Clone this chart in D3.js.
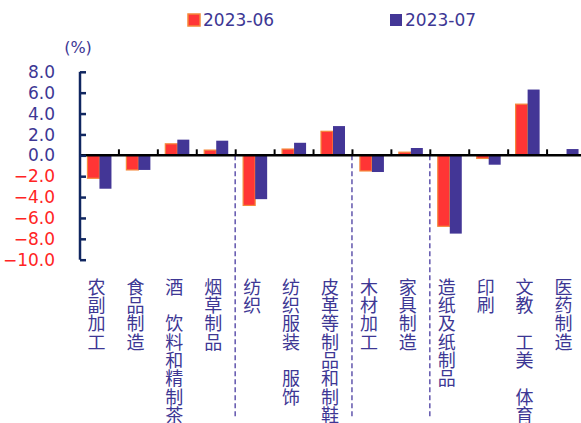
<!DOCTYPE html>
<html>
<head>
<meta charset="utf-8">
<script src="https://cdn.jsdelivr.net/npm/d3@7"></script>
<style>
  html, body { margin: 0; padding: 0; background: #fff; }
  svg { display: block; font-family: "Noto Sans CJK SC", "Noto Sans", "DejaVu Sans", sans-serif; }
  .num { font-family: "DejaVu Sans", "Noto Sans", sans-serif; }
  .catlabel { writing-mode: vertical-rl; text-orientation: upright; }
</style>
</head>
<body>
<svg id="chart" width="581" height="423"></svg>
<script>
// Industry categories (vertical labels; the ideographic space marks a blank slot)
const categories = [
  "农副加工", "食品制造", "酒\u3000饮料和精制茶", "烟草制品", "纺织",
  "纺织服装\u3000服饰", "皮革等制品和制鞋", "木材加工", "家具制造",
  "造纸及纸制品", "印刷", "文教\u3000工美\u3000体育", "医药制造"
];
const seriesNames = ["2023-06", "2023-07"];
const values2306 = [-2.2, -1.4, 1.1, 0.5, -4.8, 0.6, 2.3, -1.5, 0.3, -6.8, -0.3, 4.9, 0.0];
const values2307 = [-3.2, -1.4, 1.5, 1.4, -4.2, 1.2, 2.8, -1.6, 0.7, -7.5, -0.9, 6.3, 0.6];
const yTicks = [8, 6, 4, 2, 0, -2, -4, -6, -8, -10];
// groups separated by dashed lines: before these category indices
const groupBreaks = [4, 7, 9];

const colors = {
  red: "#ff3535",
  redStroke: "#f5883a",
  purple: "#433696",
  text: "#3d3794",
  negText: "#ff2424",
  axis: "#102660",
  dash: "#6b60b2"
};

const svg = d3.select("#chart");

const x = d3.scaleBand().domain(d3.range(categories.length)).range([80, 586]).padding(0);
const y = d3.scaleLinear().domain([-10, 8]).range([259.7, 71.8]);

const barW = 12;

// Dashed group separators
svg.append("g").selectAll("line").data(groupBreaks).join("line")
  .attr("x1", d => x(d) - 0.5).attr("x2", d => x(d) - 0.5)
  .attr("y1", y(0)).attr("y2", 418)
  .attr("stroke", colors.dash).attr("stroke-width", 1.6)
  .attr("stroke-dasharray", "5,3");

// 2023-06 bars
svg.append("g").selectAll("rect").data(values2306).join("rect")
  .attr("x", (d, i) => x(i) + x.bandwidth() / 2 - barW)
  .attr("y", d => y(Math.max(0, d)))
  .attr("width", barW)
  .attr("height", d => Math.abs(y(d) - y(0)))
  .attr("fill", colors.red)
  .attr("stroke", colors.redStroke)
  .attr("stroke-width", d => d === 0 ? 0 : 1.2);

// 2023-07 bars
svg.append("g").selectAll("rect").data(values2307).join("rect")
  .attr("x", (d, i) => x(i) + x.bandwidth() / 2)
  .attr("y", d => y(Math.max(0, d)))
  .attr("width", barW)
  .attr("height", d => Math.abs(y(d) - y(0)))
  .attr("fill", colors.purple);

// Zero baseline with category ticks
svg.append("line")
  .attr("x1", 80).attr("x2", 581)
  .attr("y1", y(0)).attr("y2", y(0))
  .attr("stroke", "#000").attr("stroke-width", 2.5);
svg.append("g").selectAll("line").data(d3.range(1, categories.length)).join("line")
  .attr("x1", d => x(d)).attr("x2", d => x(d))
  .attr("y1", y(0)).attr("y2", y(0) - 6)
  .attr("stroke", "#000").attr("stroke-width", 2);

// Y axis
const yAxis = d3.axisRight(y).tickValues(yTicks).tickSize(6).tickFormat("");
const ya = svg.append("g").attr("transform", "translate(80,0)").call(yAxis);
ya.select(".domain").attr("stroke", colors.axis).attr("stroke-width", 2.5)
  .attr("d", `M0,${y(8)}V${y(-10)}`);
ya.selectAll(".tick line").attr("stroke", colors.axis).attr("stroke-width", 2.5);

svg.append("g").selectAll("text").data(yTicks).join("text")
  .attr("class", "num")
  .attr("x", 55).attr("y", d => y(d))
  .attr("dy", "0.36em")
  .attr("text-anchor", "end")
  .attr("font-size", 17)
  .attr("fill", d => d < 0 ? colors.negText : colors.text)
  .text(d => d3.format(".1f")(d));

svg.append("text")
  .attr("class", "num")
  .attr("x", 78).attr("y", 47).attr("dy", "0.36em")
  .attr("text-anchor", "middle").attr("font-size", 16)
  .attr("fill", colors.text).text("(%)");

// Vertical category labels
svg.append("g").selectAll("text").data(categories).join("text")
  .attr("class", "catlabel")
  .attr("x", (d, i) => x(i) + x.bandwidth() / 2 - 3)
  .attr("y", 278)
  .attr("font-size", 18)
  .attr("letter-spacing", 0.3)
  .attr("fill", colors.text)
  .text(d => d);

// Legend
const legend = svg.append("g").selectAll("g").data(seriesNames).join("g")
  .attr("transform", (d, i) => `translate(${i === 0 ? 188 : 390},20)`);
legend.append("rect")
  .attr("x", 0).attr("y", -6).attr("width", 12).attr("height", 12)
  .attr("fill", (d, i) => i === 0 ? colors.red : colors.purple)
  .attr("stroke", (d, i) => i === 0 ? colors.redStroke : "none")
  .attr("stroke-width", 1.5);
legend.append("text")
  .attr("class", "num")
  .attr("x", 15).attr("y", 0).attr("dy", "0.36em")
  .attr("font-size", 17).attr("fill", colors.text)
  .text(d => d);
</script>
</body>
</html>
